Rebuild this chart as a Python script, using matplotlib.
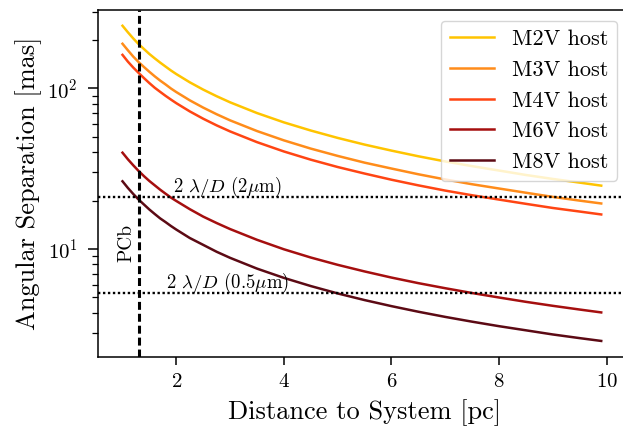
import matplotlib
matplotlib.use('Agg')
import matplotlib.pyplot as plt

plt.rcParams['font.family'] = 'serif'
plt.rcParams['font.serif'] = ['cmr10']
plt.rcParams['mathtext.fontset'] = 'cm'
plt.rcParams['axes.formatter.use_mathtext'] = True
plt.rcParams['axes.linewidth'] = 1.1
plt.rcParams['xtick.major.size'] = 5.5
plt.rcParams['ytick.major.size'] = 7
plt.rcParams['ytick.minor.size'] = 4.3
plt.rcParams['xtick.major.width'] = 1.1
plt.rcParams['ytick.major.width'] = 1.1
plt.rcParams['ytick.minor.width'] = 0.9
plt.rcParams['xtick.major.pad'] = 6
plt.rcParams['ytick.major.pad'] = 8

# distance to system [pc]
dist = [1.0, 1.1, 1.2, 1.3, 1.4, 1.5, 1.6, 1.7, 1.8, 1.9, 2.0, 2.25, 2.5, 2.75, 3.0,
        3.5, 4.0, 4.5, 5.0, 5.5, 6.0, 6.5, 7.0, 7.5, 8.0, 8.5, 9.0, 9.5, 9.9]

# angular separation of the habitable zone [mas]
m2v = [246, 224, 205, 189, 176, 164, 154, 145, 137, 129.5, 123, 109.3, 98.4, 89.5, 82.0,
       70.3, 61.5, 54.7, 49.2, 44.7, 41.0, 37.8, 35.1, 32.8, 30.8, 28.9, 27.3, 25.9, 24.8]
m3v = [190, 173, 158, 146, 136, 127, 119, 112, 106, 100, 95.0, 84.4, 76.0, 69.1, 63.3,
       54.3, 47.5, 42.2, 38.0, 34.5, 31.7, 29.2, 27.1, 25.3, 23.8, 22.4, 21.1, 20.0, 19.2]
m4v = [162, 147, 135, 125, 116, 108, 101, 95.3, 90.0, 85.3, 81.0, 72.0, 64.8, 58.9, 54.0,
       46.3, 40.5, 36.0, 32.4, 29.5, 27.0, 24.9, 23.1, 21.6, 20.3, 19.1, 18.0, 17.1, 16.4]
m6v = [39.8, 36.2, 33.2, 30.6, 28.4, 26.5, 24.9, 23.4, 22.1, 20.9, 19.9, 17.7, 15.9, 14.5, 13.3,
       11.4, 9.95, 8.84, 7.96, 7.24, 6.63, 6.12, 5.69, 5.31, 4.98, 4.68, 4.42, 4.19, 4.02]
m8v = [26.4, 24.0, 22.0, 20.3, 18.9, 17.6, 16.5, 15.5, 14.7, 13.9, 13.2, 11.7, 10.6, 9.60, 8.80,
       7.54, 6.60, 5.87, 5.28, 4.80, 4.40, 4.06, 3.77, 3.52, 3.30, 3.11, 2.93, 2.78, 2.67]

hosts = ['M2V host', 'M3V host', 'M4V host', 'M6V host', 'M8V host']
colors = ['#FFC400', '#FF8C1A', '#FF4513', '#A50F0F', '#5C0A14']

# 2 lambda/D limits [mas] and Proxima Cen b distance [pc]
lim_2um = 21.1
lim_05um = 5.28
pcb_dist = 1.30

fig = plt.figure(figsize=(6.23, 4.33), dpi=100)
ax = fig.add_axes([98.3 / 623, (433 - 356.7) / 433, (630.8 - 98.3) / 623, (356.7 - 10) / 433])

for vals, name, c in zip([m2v, m3v, m4v, m6v, m8v], hosts, colors):
    ax.plot(dist, vals, color=c, lw=1.8, label=name)

ax.set_yscale('log')
ax.set_xlim(0.55, 10.45)

ax.axhline(lim_2um, color='k', ls=(0, (1, 1.1)), lw=1.7)
ax.axhline(lim_05um, color='k', ls=(0, (1, 1.1)), lw=1.7)
ax.axvline(pcb_dist, color='k', ls=(0, (2.6, 1.3)), lw=2.2)

ax.text(2.95, lim_2um * 1.075, r'2 $\lambda/D$ (2$\mu$m)', ha='center', va='baseline', fontsize=13.5)
ax.text(2.95, lim_05um * 1.075, r'2 $\lambda/D$ (0.5$\mu$m)', ha='center', va='baseline', fontsize=13.5)
ax.text(1.235, 10.9, 'PCb', rotation=90, ha='right', va='center', fontsize=14)

ax.set_xticks([2, 4, 6, 8, 10])
ax.tick_params(labelsize=15)
ax.set_xlabel('Distance to System [pc]', fontsize=19, labelpad=6)
ax.set_ylabel('Angular Separation [mas]', fontsize=19)

ax.legend(loc='upper right', bbox_to_anchor=(617 / 623, 1 - 20.8 / 433),
          bbox_transform=fig.transFigure, borderaxespad=0, fontsize=16)

fig.savefig('out.png', dpi=100)
